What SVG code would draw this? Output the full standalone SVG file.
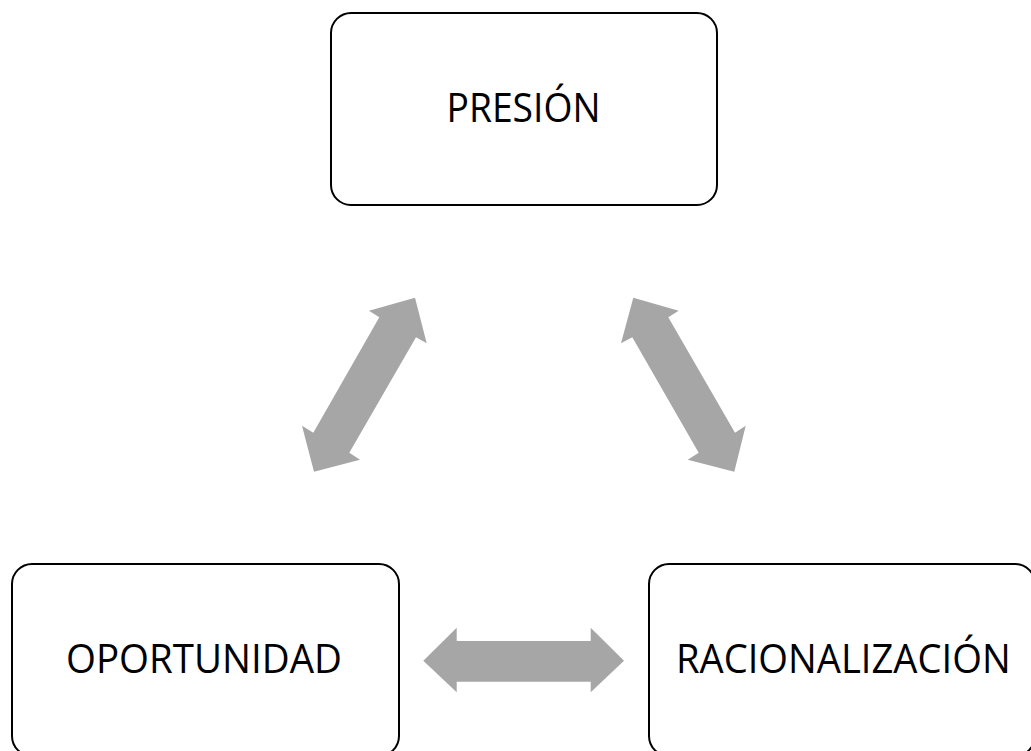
<svg xmlns="http://www.w3.org/2000/svg" width="1031" height="751" viewBox="0 0 1031 751">
<style>
.box{fill:#fff;stroke:#000;stroke-width:2}
.lbl{font-family:"Open Sans","Noto Sans","Liberation Sans",sans-serif;font-size:40px;fill:#000;text-anchor:middle}
.arr{fill:#A6A6A6;stroke:none}
</style>
<rect width="1031" height="751" fill="#fff"/>
<g id="connectors">
<polygon class="arr" points="415,297.7 426.7,343.3 416,337.3 349.3,452.7 360,459.7 314,471.7 302,425.7 313.3,432.7 379.3,317.3 369,310.7"/>
<polygon class="arr" points="633.3,297.7 678.7,310.7 668.3,317.3 735,432.7 745.7,425.7 734.3,471.7 687.7,459.7 698.7,452.7 632.3,337.3 621,343.3"/>
<polygon class="arr" points="423.3,660.7 456.7,627.7 456.7,641 590.7,641 590.7,627.7 624,660.7 590.7,692.3 590.7,681.7 456.7,681.7 456.7,692.3"/>
</g>
<g id="node-presion">
<rect class="box" x="331" y="13" width="386" height="192" rx="20"/>
<text class="lbl" x="523.5" y="121.5" textLength="154" lengthAdjust="spacingAndGlyphs">PRESIÓN</text>
</g>
<g id="node-oportunidad">
<rect class="box" x="12" y="564" width="387" height="192" rx="20"/>
<text class="lbl" x="204" y="673.3" textLength="276" lengthAdjust="spacingAndGlyphs">OPORTUNIDAD</text>
</g>
<g id="node-racionalizacion">
<rect class="box" x="649" y="564" width="386" height="192" rx="20"/>
<text class="lbl" x="843.3" y="673.3" textLength="334.7" lengthAdjust="spacingAndGlyphs">RACIONALIZACIÓN</text>
</g>
</svg>
